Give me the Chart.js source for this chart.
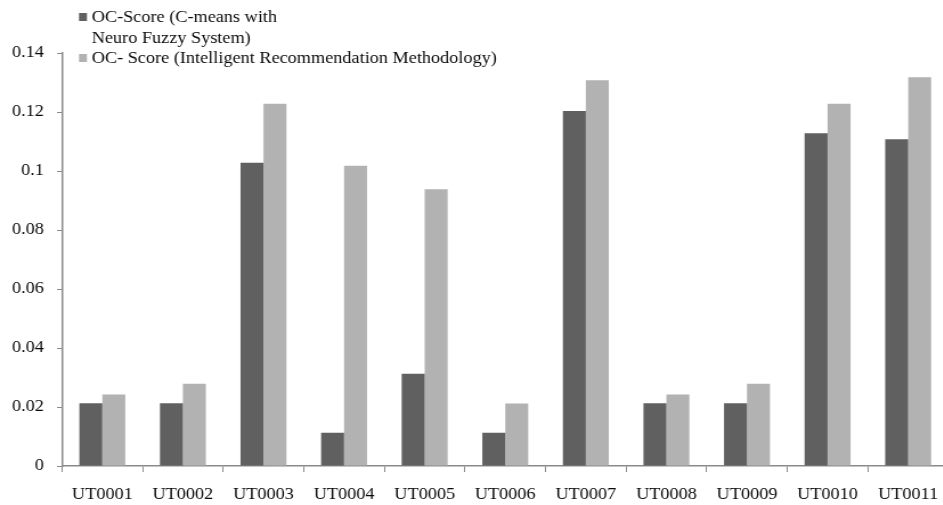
<!DOCTYPE html>
<html>
<head>
<meta charset="utf-8">
<script src="https://cdn.jsdelivr.net/npm/chart.js@4.4.1/dist/chart.umd.min.js"></script>
<style>
  html, body { margin: 0; padding: 0; background: #ffffff; overflow: hidden; width: 943px; height: 505px; }
  #wrap { position: absolute; left: 0; top: 0; width: 836px; height: 505px; transform: scaleX(1.14); transform-origin: 0 0; }
</style>
</head>
<body>
<div id="wrap"><canvas id="chart"></canvas></div>
<script>
// Users
const categories = ['UT0001', 'UT0002', 'UT0003', 'UT0004', 'UT0005', 'UT0006',
                    'UT0007', 'UT0008', 'UT0009', 'UT0010', 'UT0011'];

// OC-Score, C-means with Neuro Fuzzy System
const cmeansScores = [0.0213, 0.0213, 0.1028, 0.0113, 0.0313, 0.0113,
                      0.1203, 0.0213, 0.0213, 0.1128, 0.1108];

// OC-Score, Intelligent Recommendation Methodology
const irmScores = [0.0242, 0.0279, 0.1228, 0.1018, 0.0938, 0.0212,
                   0.1308, 0.0242, 0.0279, 0.1228, 0.1318];

// Value axis ticks
const yTicks = [0, 0.02, 0.04, 0.06, 0.08, 0.1, 0.12, 0.14];

const seriesLabels = [
  ['OC-Score (C-means with', 'Neuro Fuzzy System)'],
  ['OC- Score (Intelligent Recommendation Methodology)']
];
const seriesColors = ['#606060', '#b2b2b2'];

const FONT = '"Liberation Serif", "Times New Roman", serif';
const AXIS = '#8a8a8a';
const TEXT = '#0a0a0a';

// Legend drawn as stacked lines in the top-left corner
const topLegend = {
  id: 'topLegend',
  afterDraw(chart) {
    const ctx = chart.ctx;
    ctx.save();
    ctx.font = '16px ' + FONT;
    ctx.textBaseline = 'alphabetic';
    ctx.textAlign = 'left';
    let baseline = 22;
    chart.data.datasets.forEach((ds, i) => {
      ctx.fillStyle = ds.backgroundColor;
      ctx.fillRect(69.3, baseline - 9, 7, 8);
      ctx.fillStyle = TEXT;
      const lines = seriesLabels[i];
      lines.forEach(line => {
        ctx.fillText(line, 80.4, baseline);
        baseline += 20.5;
      });
    });
    ctx.restore();
  }
};

new Chart(document.getElementById('chart'), {
  type: 'bar',
  data: {
    labels: categories,
    datasets: [
      { label: seriesLabels[0].join(' '), data: cmeansScores, backgroundColor: seriesColors[0] },
      { label: seriesLabels[1][0], data: irmScores, backgroundColor: seriesColors[1] }
    ]
  },
  options: {
    responsive: true,
    maintainAspectRatio: false,
    animation: false,
    devicePixelRatio: 1,
    layout: { padding: { top: 53, left: 0, right: 0, bottom: 0 } },
    datasets: {
      bar: { categoryPercentage: 0.57, barPercentage: 1.0, borderWidth: 0 }
    },
    plugins: {
      legend: { display: false },
      tooltip: { enabled: false }
    },
    scales: {
      x: {
        offset: true,
        grid: { display: true, drawOnChartArea: false, offset: true, color: AXIS, tickLength: 6, lineWidth: 1 },
        border: { display: true, color: AXIS, width: 1.5 },
        ticks: { color: TEXT, font: { family: FONT, size: 16 }, padding: 13, maxRotation: 0, autoSkip: false },
        afterFit(scale) { scale.height = 39; }
      },
      y: {
        min: 0,
        max: 0.14,
        afterBuildTicks(scale) { scale.ticks = yTicks.map(v => ({ value: v })); },
        grid: { display: true, drawOnChartArea: false, color: AXIS, tickLength: 4.4 },
        border: { display: true, color: AXIS, width: 1.5 },
        ticks: {
          color: TEXT,
          font: { family: FONT, size: 16 },
          padding: 11.4,
          callback: v => String(Number(v.toFixed(2)))
        },
        afterFit(scale) { scale.width = 54.4; }
      }
    }
  },
  plugins: [topLegend]
});
</script>
</body>
</html>
